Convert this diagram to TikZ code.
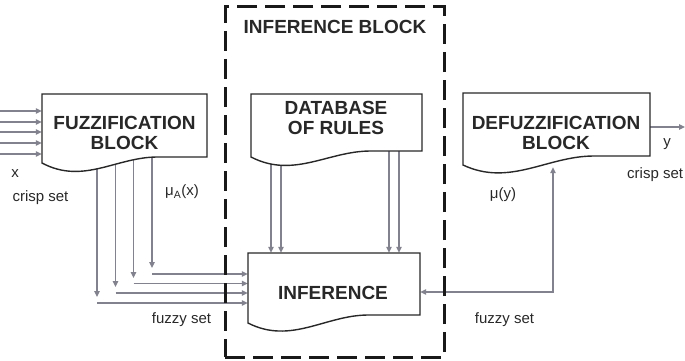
\documentclass[tikz,border=0pt]{standalone}
\usepackage{fontspec}
\setmainfont{Liberation Sans}
\usetikzlibrary{arrows.meta}
\definecolor{ln}{RGB}{130,130,142}
\definecolor{bk}{RGB}{40,40,40}
\newcommand\wavebox[5]{%
  \draw[blk] (#1,#2) -- (#3,#2) -- (#3,#5) -- ({#1+0.7*(#3-#1)},#5)
    .. controls ({#1+0.45*(#3-#1)},#5) and ({#1+0.25*(#3-#1)},{#4+22}) .. (#1,#4) -- cycle;}
\begin{document}
\begin{tikzpicture}[x=1pt,y=-1pt,
  blk/.style={draw=bk,line width=1.4pt,fill=white},
  arr/.style={draw=ln,line width=1.2pt,-{Triangle[length=6pt,width=5.5pt]}},
  darr/.style={draw=ln,line width=1.2pt,{Triangle[length=6pt,width=5.5pt]}-{Triangle[length=6pt,width=5.5pt]}},
  btxt/.style={font=\bfseries\fontsize{19}{20}\selectfont,text=bk,align=center,inner sep=0pt},
  lbl/.style={font=\fontsize{15}{16}\selectfont,text=bk,inner sep=0pt},
  area/.style={inner sep=0pt,draw=none}]
\useasboundingbox (0,0) rectangle (685,361);

% invisible block areas
\node[area,minimum width=165pt,minimum height=69pt] (fz)  at (124.5,128.5) {};
\node[area,minimum width=171pt,minimum height=63pt] (db)  at (336.5,125.5) {};
\node[area,minimum width=187pt,minimum height=72pt] (dfz) at (556.5,129) {};
\node[area,minimum width=172pt,minimum height=70pt] (inf) at (334,288) {};
\coordinate (fb) at (553,292);
\coordinate (out) at (685,127);

% connectors under blocks
\foreach \x/\ya/\yh in {152/268/274, 133.5/278/283.5, 115.5/287/293, 97/297/303} {
  \draw[arr] (\x,0 |- fz.center) -- (\x,\ya);
  \draw[arr] (\x,\yh) -- (inf.west |- 0,\yh);
}
\foreach \x in {271,281,389,399}
  \draw[arr] (\x,0 |- db.center) -- (\x,0 |- inf.north);
\draw[darr] (dfz.south -| fb) ++(0,2) -- (fb) -- (fb -| inf.east);
\foreach \y in {111,122,132,143,154}
  \draw[arr] (0,\y) -- (fz.west |- 0,\y);
\draw[arr] (dfz.east |- out) -- (out);

% blocks
\wavebox{42}{94}{207}{163}{157}
\wavebox{251}{94}{422}{157}{151}
\wavebox{463}{93}{650}{165}{156}
\wavebox{248}{253}{420}{323}{315}

% dashed inference block
\node[draw=black!90,line width=3pt,dash pattern=on 20pt off 8pt,inner sep=0pt,
      minimum width=219pt,minimum height=350pt] (ib) at (334.5,182) {};

% texts
\node[btxt] (fzt)  at (124.5,133) {FUZZIFICATION\\BLOCK};
\node[btxt] (dbt)  at (336,117.5) {DATABASE\\OF RULES};
\node[btxt] (dft)  at (556,133) {DEFUZZIFICATION\\BLOCK};
\node[btxt] (inft) at (333,293) {INFERENCE};
\node[btxt] (ibt)  at (335,27) {INFERENCE BLOCK};

\node[lbl] (lx)   at (15,174) {x};
\node[lbl] (lcs1) at (40.5,198) {crisp set};
\node[lbl] (lmua) at (182,192) {μ\textsubscript{A}(x)};
\node[lbl] (lfs1) at (181.5,320) {fuzzy set};
\node[lbl] (lmuy) at (503,195) {μ(y)};
\node[lbl] (lfs2) at (504.5,320) {fuzzy set};
\node[lbl] (ly)   at (667,144) {y};
\node[lbl,anchor=west] (lcs2) at (627,175) {crisp set};
\end{tikzpicture}
\end{document}
